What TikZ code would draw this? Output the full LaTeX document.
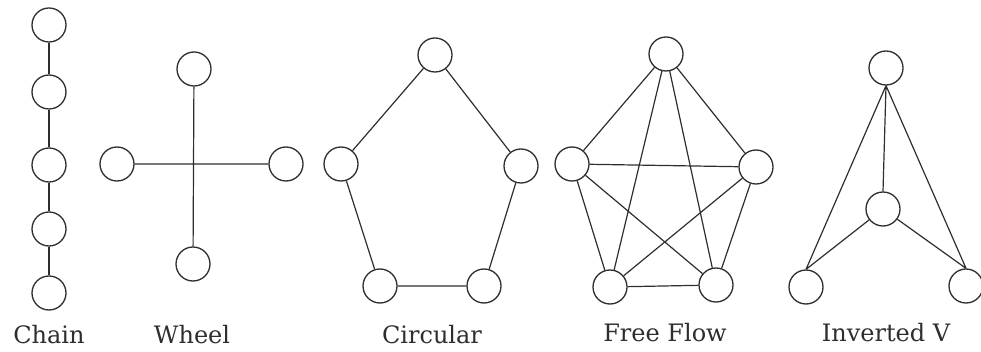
\documentclass[tikz,border=0pt]{standalone}
\usepackage{fontspec}
\setmainfont{DejaVu Serif}
\definecolor{ink}{HTML}{2E2E2E}
\begin{document}
\begin{tikzpicture}[x=1pt,y=-1pt,
  nd/.style={circle,draw=ink,line width=1.3pt,minimum size=34pt,inner sep=0pt,fill=white},
  ln/.style={draw=ink,line width=1.2pt},
  lbl/.style={anchor=base,text=ink,font=\fontsize{24}{24}\selectfont,inner sep=0pt}]
\useasboundingbox (0,0) rectangle (981,352);
% Chain
\node[nd] (c1) at (49,25) {};
\node[nd] (c2) at (49,92) {};
\node[nd] (c3) at (49,165) {};
\node[nd] (c4) at (49,229) {};
\node[nd] (c5) at (49,293) {};
\draw[ln] (c1) -- (c2) (c2) -- (c3) (c3) -- (c4) (c4) -- (c5);
\node[lbl] (lc) at (49,343) {Chain};
% Wheel
\node[nd] (wt) at (194,69) {};
\node[nd] (wl) at (117,164) {};
\node[nd] (wr) at (286,164) {};
\node[nd] (wb) at (193,264) {};
\draw[ln] (wt) -- (wb) (wl) -- (wr);
\node[lbl] (lw) at (192,343) {Wheel};
% Circular
\node[nd] (rt) at (435,55) {};
\node[nd] (rl) at (341,164) {};
\node[nd] (rr) at (521,166) {};
\node[nd] (rbl) at (380,286) {};
\node[nd] (rbr) at (484,286) {};
\draw[ln] (rt) -- (rl) (rl) -- (rbl) (rbl) -- (rbr) (rbr) -- (rr) (rr) -- (rt);
\node[lbl] (lr) at (432,343) {Circular};
% Free Flow
\node[nd] (ft) at (666,54) {};
\node[nd] (fl) at (572,164) {};
\node[nd] (fr) at (756,167) {};
\node[nd] (fbl) at (610,287) {};
\node[nd] (fbr) at (716,285) {};
\draw[ln] (ft) -- (fl) (ft) -- (fr) (ft) -- (fbl) (ft) -- (fbr)
  (fl) -- (fr) (fl) -- (fbl) (fl) -- (fbr)
  (fr) -- (fbl) (fr) -- (fbr) (fbl) -- (fbr);
\node[lbl] (lf) at (665,341) {Free Flow};
% Inverted V
\node[nd] (vt) at (886,68) {};
\node[nd] (vm) at (883,209) {};
\node[nd] (vbl) at (806,287) {};
\node[nd] (vbr) at (966,286) {};
\draw[ln] (vt.south) -- (vbl.north) (vt.south) -- (vbr.north) (vt.south) -- (vm.north)
  (vm) -- (vbl.north) (vm) -- (vbr.north);
\node[lbl] (lv) at (886,341) {Inverted V};
\end{tikzpicture}
\end{document}
